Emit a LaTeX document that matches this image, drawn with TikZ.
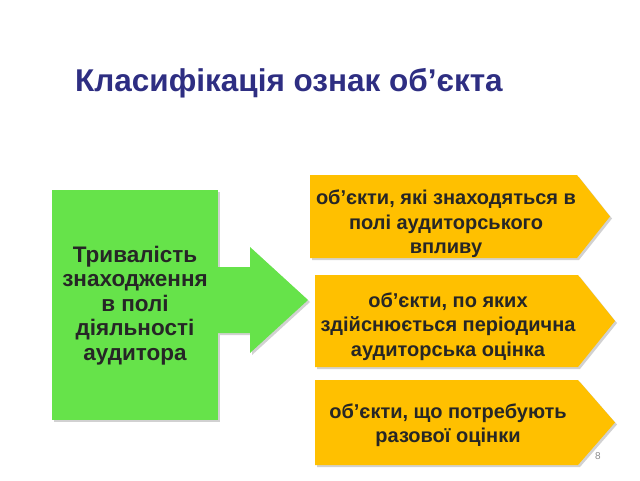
\documentclass[tikz,border=0pt]{standalone}
\usepackage{fontspec}
\setmainfont{Liberation Sans}
\usetikzlibrary{shadows}
\definecolor{gbox}{HTML}{66E34A}
\definecolor{obox}{HTML}{FFC000}
\definecolor{ttl}{HTML}{2E2E82}
\tikzset{
  sh/.style={drop shadow={shadow xshift=2pt,shadow yshift=-2pt,opacity=0.3,fill=black!60}},
  gshape/.style={fill=gbox,draw=none,sh},
  oshape/.style={fill=obox,draw=none,sh},
  gtxt/.style={font=\bfseries\fontsize{22.5}{24.5}\selectfont,align=center,text=black!85},
  otxt/.style={font=\bfseries\fontsize{20}{24.5}\selectfont,align=center,text=black!85},
}
\begin{document}
\begin{tikzpicture}[x=1pt,y=-1pt]
\useasboundingbox (0,0) rectangle (640,480);
\node[font=\bfseries\fontsize{31.5}{34}\selectfont,text=ttl,anchor=west,inner sep=0pt] (title) at (75,83) {Класифікація ознак об’єкта};
% green box
\fill[gshape] (52,190) rectangle (218,420);
\node[gtxt] (src) at (135,305.5) {Тривалість\\знаходження\\в полі\\діяльності\\аудитора};
% green arrow
\fill[gshape] (218,267) -- (250,267) -- (250,247) -- (308,300) -- (250,353) -- (250,333) -- (218,333) -- cycle;
\coordinate (tip) at (308,300);
% orange boxes
\fill[oshape] (310,175) -- (577,175) -- (610,216.5) -- (577,258) -- (310,258) -- cycle;
\node[otxt] (o1) at (446,224) {об’єкти, які знаходяться в\\полі аудиторського\\впливу};
\fill[oshape] (315,275) -- (578,275) -- (615,321) -- (578,367) -- (315,367) -- cycle;
\node[otxt] (o2) at (448,326.5) {об’єкти, по яких\\здійснюється періодична\\аудиторська оцінка};
\fill[oshape] (315,380) -- (578,380) -- (615,422.5) -- (578,465) -- (315,465) -- cycle;
\node[otxt] (o3) at (448,425) {об’єкти, що потребують\\разової оцінки};
\node[font=\fontsize{10}{12}\selectfont,text=black!45] (pg) at (598,456) {8};
\end{tikzpicture}
\end{document}
